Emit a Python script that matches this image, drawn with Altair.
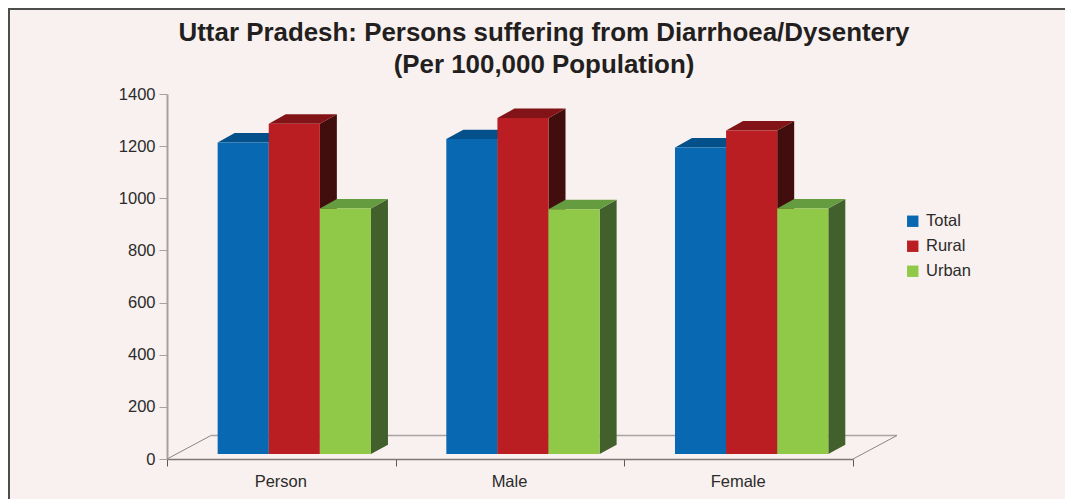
import altair as alt
import pandas as pd

categories = ["Person", "Male", "Female"]
series = ["Total", "Rural", "Urban"]
total = [1195, 1208, 1176]
rural = [1267, 1289, 1241]
urban = [942, 939, 942]
values = {"Total": total, "Rural": rural, "Urban": urban}
front_colors = ["#0868b2", "#bb1e22", "#90c948"]
top_colors = ["#04508a", "#821316", "#669c40"]
side_colors = ["#04508a", "#420e0d", "#41602c"]
tick_positions = [0, 0.5, 1, 1.5, 2, 2.5, 3]

GAP = 0.2215       # space before the first bar of a group, in category units
BAR = 0.2235       # bar width
DX = 0.0743        # 3D depth in x
DY = 36            # 3D depth in y (value units)
BASE = 19          # bar foot sits above the axis front edge
FLOOR_DX = 0.192
FLOOR_DY = 90

INK = "#2b2b2b"
BG = "#f9f1ef"

layers = []

# frame (top and left edges of the picture)
frame_top = alt.Chart(pd.DataFrame({"a": [0]})).mark_rule(color="#4d4d4d", strokeWidth=2).encode(
    x=alt.value(-159), x2=alt.value(898), y=alt.value(-85)
)
frame_left = alt.Chart(pd.DataFrame({"a": [0]})).mark_rule(color="#4d4d4d", strokeWidth=2).encode(
    x=alt.value(-158), y=alt.value(-86), y2=alt.value(405)
)
layers += [frame_top, frame_left]

xs = alt.Scale(domain=[0, 3], nice=False, zero=False)
ys = alt.Scale(domain=[0, 1400], nice=False, zero=False)
layers.append(
    alt.Chart(pd.DataFrame({"x": [0, FLOOR_DX], "y": [0, FLOOR_DY]})).mark_line(color="#8a8686", strokeWidth=1, clip=False)
    .encode(x=alt.X("x:Q", scale=xs), y=alt.Y("y:Q", scale=ys))
)
layers.append(
    alt.Chart(pd.DataFrame({"x": [FLOOR_DX, 3 + FLOOR_DX], "y": [FLOOR_DY, FLOOR_DY]})).mark_line(color="#a8a4a3", strokeWidth=1.5, clip=False)
    .encode(x=alt.X("x:Q", scale=xs), y=alt.Y("y:Q", scale=ys))
)
layers.append(
    alt.Chart(pd.DataFrame({"x": [3, 3 + FLOOR_DX], "y": [0, FLOOR_DY]})).mark_line(color="#8a8686", strokeWidth=1, clip=False)
    .encode(x=alt.X("x:Q", scale=xs), y=alt.Y("y:Q", scale=ys))
)

for k, s in enumerate(series):
    front, top, side = [], [], []
    for i, c in enumerate(categories):
        v = values[s][i] + BASE
        x0 = i + GAP + k * BAR
        x1 = x0 + BAR
        front.append({"x": x0, "x2": x1, "y": v, "y2": BASE, "Series": s})
        top += [
            {"x": x0, "y": v, "y2": v, "g": c},
            {"x": x0 + DX, "y": v + DY, "y2": v, "g": c},
            {"x": x1, "y": v + DY, "y2": v, "g": c},
            {"x": x1 + DX, "y": v + DY, "y2": v + DY, "g": c},
        ]
        side += [
            {"x": x1, "y": v, "y2": BASE, "g": c},
            {"x": x1 + DX, "y": v + DY, "y2": BASE + DY, "g": c},
        ]
    layers.append(
        alt.Chart(pd.DataFrame(side)).mark_area(color=side_colors[k], clip=False).encode(
            x=alt.X("x:Q", scale=xs), y=alt.Y("y:Q", scale=ys), y2="y2:Q", detail="g:N")
    )
    layers.append(
        alt.Chart(pd.DataFrame(top)).mark_area(color=top_colors[k], clip=False).encode(
            x=alt.X("x:Q", scale=xs), y=alt.Y("y:Q", scale=ys), y2="y2:Q", detail="g:N")
    )
    layers.append(
        alt.Chart(pd.DataFrame(front)).mark_rect(clip=False).encode(
            x=alt.X("x:Q", scale=xs), x2="x2:Q",
            y=alt.Y("y:Q", scale=ys), y2="y2:Q",
            color=alt.Color("Series:N",
                            sort=series,
                            scale=alt.Scale(domain=series, range=front_colors),
                            legend=alt.Legend(
                                title=None, orient="none", legendX=737.5, legendY=119,
                                symbolType="square", symbolSize=130, symbolStrokeWidth=0,
                                labelFontSize=16.5, labelFont="Liberation Sans", labelColor=INK,
                                rowPadding=8, labelOffset=5, symbolOpacity=1)))
    )

axis_layer = alt.Chart(pd.DataFrame({"x": [0], "y": [0]})).mark_point(opacity=0).encode(
    x=alt.X("x:Q", scale=xs, axis=alt.Axis(
        title=None, values=tick_positions, grid=False,
        labelExpr="datum.value % 1 == 0 ? '' : ['" + "','".join(categories) + "'][floor(datum.value)]",
        tickOpacity=alt.condition("datum.value % 1 == 0", alt.value(1), alt.value(0)),
        tickColor="#5a5a5a", tickSize=7, domainColor="#7b7878", domainWidth=1.5,
        labelFontSize=16.5, labelFont="Liberation Sans", labelColor=INK, labelPadding=7, labelOffset=-1,
        labelFlush=False, labelOverlap=False)),
    y=alt.Y("y:Q", scale=ys, axis=alt.Axis(
        title=None, values=list(range(0, 1401, 200)), grid=False, format="d",
        tickColor="#a5a1a0", tickSize=8, domainColor="#a5a1a0", domainWidth=2,
        labelFontSize=16.5, labelFont="Liberation Sans", labelColor=INK, labelPadding=4)),
)
layers.insert(0, axis_layer)

chart = alt.layer(*layers).properties(
    width=686, height=365,
    background=BG,
    padding={"left": 159, "top": 86, "right": 212, "bottom": 40},
    autosize=alt.AutoSizeParams(type="none"),
    title=alt.TitleParams(
        text=["Uttar Pradesh: Persons suffering from Diarrhoea/Dysentery", "(Per 100,000 Population)"],
        font="Liberation Sans", fontSize=25.9, fontWeight="bold", color="#231f20",
        anchor="middle", dx=34, offset=-72, lineHeight=32),
).configure_view(stroke=None)

chart.save("out.html", embed_options={"renderer": "svg", "actions": False})
